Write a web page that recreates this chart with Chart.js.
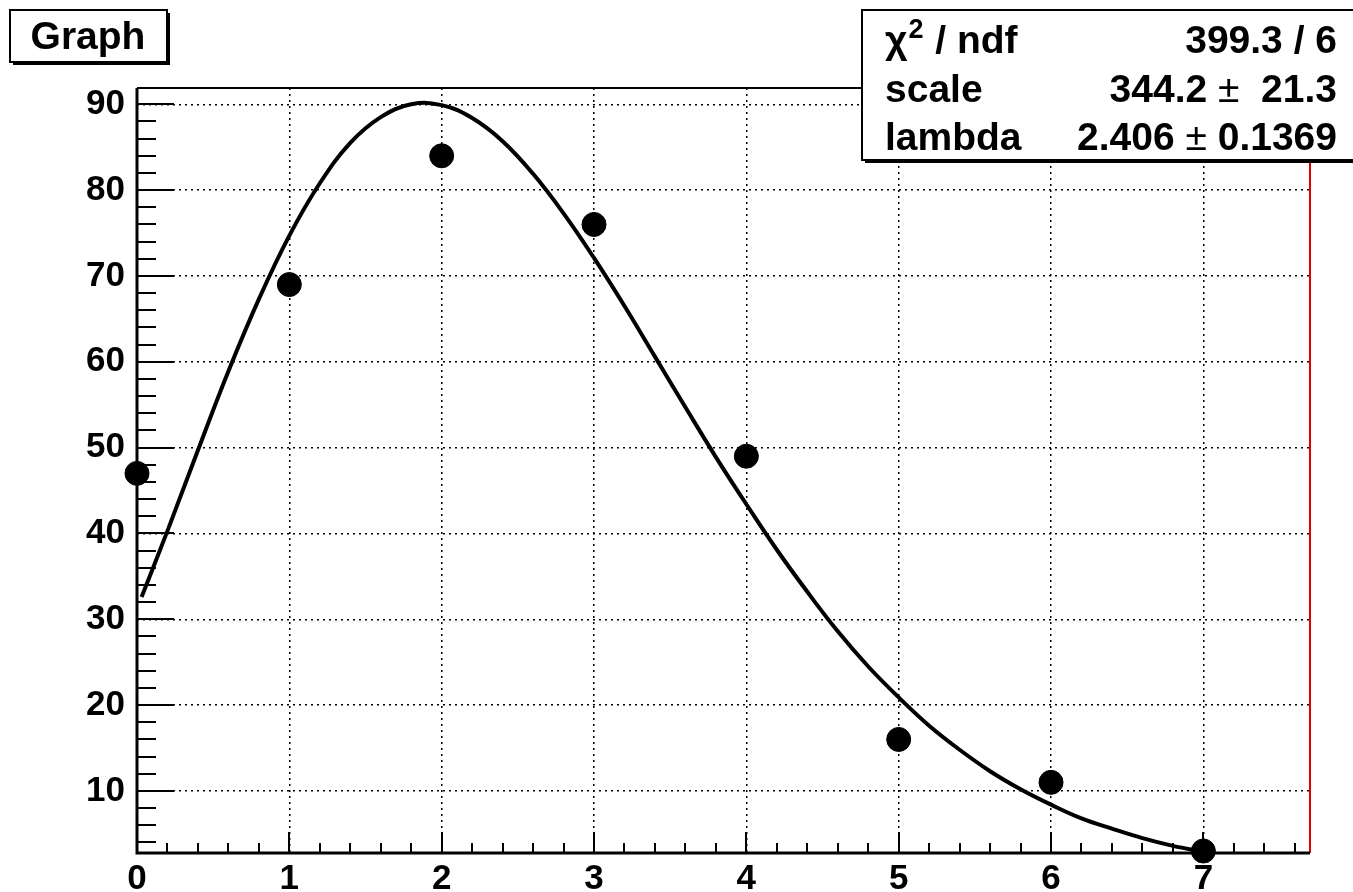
<!DOCTYPE html>
<html>
<head>
<meta charset="utf-8">
<title>Graph</title>
<script src="https://cdn.jsdelivr.net/npm/chart.js@4"></script>
<style>
  body { margin: 0; background: #fff; }
  canvas { display: block; }
</style>
</head>
<body>
<canvas id="graph" width="1353" height="892"></canvas>
<script>
// measured points
const pointX = [0, 1, 2, 3, 4, 5, 6, 7];
const pointY = [47, 69, 84, 76, 49, 16, 11, 3];

// fitted curve
const fitX = [0.03, 0.2, 0.4, 0.6, 0.8, 1.0, 1.2, 1.4, 1.6, 1.8, 2.0, 2.2, 2.4, 2.6, 2.8, 3.0,
              3.2, 3.4, 3.6, 3.8, 4.0, 4.2, 4.4, 4.6, 4.8, 5.0, 5.2, 5.4, 5.6, 5.8, 6.0,
              6.2, 6.4, 6.6, 6.8, 7.0];
const fitY = [32.6, 40.3, 49.7, 58.9, 67.3, 74.7, 80.8, 85.5, 88.5, 90.0, 89.9, 88.4, 85.7, 81.9, 77.3, 72.1,
              66.5, 60.6, 54.7, 48.9, 43.4, 38.1, 33.2, 28.6, 24.5, 20.9, 17.6, 14.8, 12.3, 10.2, 8.4,
              6.8, 5.6, 4.5, 3.6, 2.9];

const xTicks = [0, 1, 2, 3, 4, 5, 6, 7];
const yTicks = [10, 20, 30, 40, 50, 60, 70, 80, 90];

const statLabels = ['χ^2 / ndf', 'scale', 'lambda'];
const statValues = ['399.3 / 6', '344.2 ±  21.3', '2.406 ± 0.1369'];

const FONT = '"Liberation Sans", Arial, Helvetica, sans-serif';

// right aligned text, with the ± sign drawn in normal weight
function drawValue(ctx, text, right, y, size) {
    const parts = text.split('±');
    const bold = 'bold ' + size + 'px ' + FONT;
    const thin = size + 'px ' + FONT;
    ctx.textAlign = 'left';
    let widths = [];
    let total = 0;
    parts.forEach((p, i) => {
        ctx.font = bold;
        const w = ctx.measureText(p).width;
        widths.push(w);
        total += w;
        if (i < parts.length - 1) {
            ctx.font = thin;
            total += ctx.measureText('±').width;
        }
    });
    let x = right - total;
    parts.forEach((p, i) => {
        ctx.font = bold;
        ctx.fillText(p, x, y);
        x += widths[i];
        if (i < parts.length - 1) {
            ctx.font = thin;
            ctx.fillText('±', x, y);
            x += ctx.measureText('±').width;
        }
    });
}

// left aligned label, "^2" becomes a superscript
function drawLabel(ctx, text, left, y, size) {
    const bold = 'bold ' + size + 'px ' + FONT;
    const sup = 'bold ' + Math.round(size * 0.68) + 'px ' + FONT;
    ctx.textAlign = 'left';
    const parts = text.split('^');
    let x = left;
    parts.forEach((p, i) => {
        if (i > 0) {
            ctx.font = sup;
            ctx.fillText(p[0], x + 1, y - size * 0.38);
            x += ctx.measureText(p[0]).width + 2;
            p = p.slice(1);
        }
        ctx.font = bold;
        ctx.fillText(p, x, y);
        x += ctx.measureText(p).width;
    });
}

// ROOT style frame, tick marks and the two boxes
const rootStyle = {
    id: 'rootStyle',
    beforeDatasetsDraw(chart) {
        const ctx = chart.ctx;
        const a = chart.chartArea;
        const xs = chart.scales.x, ys = chart.scales.y;
        ctx.save();
        ctx.strokeStyle = '#000';
        ctx.lineWidth = 2;
        ctx.beginPath();
        // x ticks (major every 1, minor every 0.2)
        for (let i = 0; i * 0.2 <= xs.max + 1e-9; i++) {
            const px = Math.round(xs.getPixelForValue(i * 0.2));
            const len = (i % 5 === 0) ? 21 : 10;
            ctx.moveTo(px, a.bottom);
            ctx.lineTo(px, a.bottom - len);
        }
        // y ticks (major every 10, minor every 2)
        for (let v = 4; v <= ys.max; v += 2) {
            const py = Math.round(ys.getPixelForValue(v));
            const len = (v % 10 === 0) ? 37 : 19;
            ctx.moveTo(a.left, py);
            ctx.lineTo(a.left + len, py);
        }
        ctx.stroke();

        // frame
        ctx.lineWidth = 2;
        ctx.beginPath();
        ctx.moveTo(a.left, a.top);
        ctx.lineTo(a.right, a.top);
        ctx.stroke();
        ctx.strokeStyle = '#e00000';
        ctx.beginPath();
        ctx.moveTo(a.right, a.top);
        ctx.lineTo(a.right, a.bottom);
        ctx.stroke();
        ctx.strokeStyle = '#000';
        ctx.lineWidth = 3;
        ctx.beginPath();
        ctx.moveTo(a.left, a.top);
        ctx.lineTo(a.left, a.bottom);
        ctx.lineTo(a.right, a.bottom);
        ctx.stroke();
        ctx.restore();
    },
    afterDraw(chart) {
        const ctx = chart.ctx;
        ctx.save();
        // title box
        ctx.fillStyle = '#000';
        ctx.fillRect(13, 13, 157, 52);
        ctx.fillStyle = '#fff';
        ctx.fillRect(10, 10, 157, 52);
        ctx.strokeStyle = '#000';
        ctx.lineWidth = 2;
        ctx.strokeRect(10, 10, 157, 52);
        ctx.fillStyle = '#000';
        ctx.font = 'bold 39px ' + FONT;
        ctx.textAlign = 'center';
        ctx.textBaseline = 'alphabetic';
        ctx.fillText('Graph', 88, 49);

        // fit statistics box
        ctx.fillStyle = '#000';
        ctx.fillRect(865, 13, 500, 150);
        ctx.fillStyle = '#fff';
        ctx.fillRect(862, 10, 500, 150);
        ctx.strokeRect(862, 10, 500, 150);
        ctx.fillStyle = '#000';
        ctx.textBaseline = 'alphabetic';
        statLabels.forEach((lbl, i) => {
            const y = 53 + i * 48.5;
            drawLabel(ctx, lbl, 885, y, 39);
            drawValue(ctx, statValues[i], 1337, y, 39);
        });
        ctx.restore();
    }
};

const fitData = fitX.map((x, i) => ({ x: x, y: fitY[i] }));
const pointData = pointX.map((x, i) => ({ x: x, y: pointY[i] }));

new Chart(document.getElementById('graph'), {
    type: 'scatter',
    data: {
        datasets: [{
            label: 'fit',
            data: fitData,
            showLine: true,
            borderColor: '#000',
            borderWidth: 4,
            pointRadius: 0,
            tension: 0.4,
            clip: false
        }, {
            label: 'Graph',
            data: pointData,
            backgroundColor: '#000',
            borderColor: '#000',
            pointRadius: 12,
            clip: false
        }]
    },
    options: {
        responsive: false,
        animation: false,
        devicePixelRatio: 1,
        events: [],
        layout: { padding: { left: 0, right: 43, top: 88, bottom: 0 } },
        plugins: {
            legend: { display: false },
            tooltip: { enabled: false },
            title: { display: false }
        },
        scales: {
            x: {
                type: 'linear',
                min: 0,
                max: 7.7,
                afterBuildTicks: s => { s.ticks = xTicks.map(v => ({ value: v })); },
                afterFit: s => { s.height = 39; },
                grid: { color: '#000', lineWidth: 1.5, drawTicks: false },
                border: { display: false, dash: [2, 4] },
                ticks: {
                    color: '#000',
                    padding: 5,
                    maxRotation: 0,
                    font: { family: FONT, size: 35, weight: 'bold' }
                }
            },
            y: {
                type: 'linear',
                min: 2.77,
                max: 91.9,
                afterBuildTicks: s => { s.ticks = yTicks.map(v => ({ value: v })); },
                afterFit: s => { s.width = 137; },
                grid: { color: '#000', lineWidth: 1.5, drawTicks: false },
                border: { display: false, dash: [2, 4] },
                ticks: {
                    color: '#000',
                    padding: 12,
                    font: { family: FONT, size: 35, weight: 'bold' }
                }
            }
        }
    },
    plugins: [rootStyle]
});
</script>
</body>
</html>
